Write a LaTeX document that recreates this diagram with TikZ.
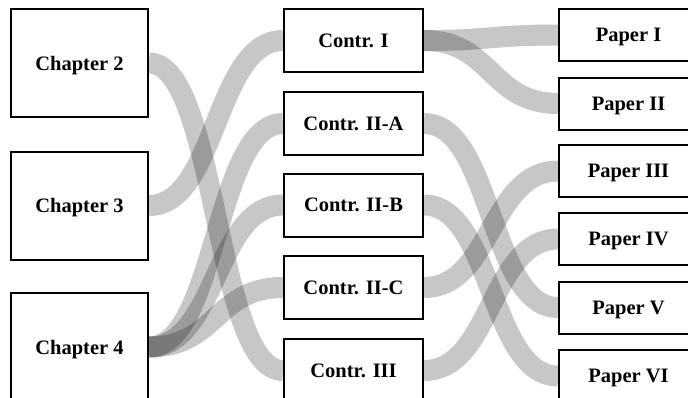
\documentclass[tikz,border=0pt]{standalone}
\usepackage{fontspec}
\setmainfont{Liberation Serif}
\begin{document}
\begin{tikzpicture}[x=1pt, y=-1pt,
                    box/.style  = {draw, line width=2pt, fill=white, inner sep=0pt, text depth=0pt,
                                   font=\bfseries\fontsize{20.5}{24}\selectfont},
                    chap/.style = {box, minimum width=137pt, minimum height=108pt},
                    contr/.style = {box, minimum width=139pt, minimum height=63pt},
                    paper/.style = {box, minimum width=139pt, minimum height=52pt},
                    flow/.style = {line width=21pt, black, draw opacity=0.22}]
                    \clip (0,0) rectangle (688,397);

                    \node[chap]  (ch2) at (79.5,63)    {Chapter 2};
                    \node[chap]  (ch3) at (79.5,205.5) {Chapter 3};
                    \node[chap]  (ch4) at (79.5,347)   {Chapter 4};

                    \node[contr] (c1)  at (353.5,40.5)  {Contr. I};
                    \node[contr] (c2a) at (353.5,123.5) {Contr. II-A};
                    \node[contr] (c2b) at (353.5,205)   {Contr. II-B};
                    \node[contr] (c2c) at (353.5,287.5) {Contr. II-C};
                    \node[contr] (c3)  at (353.5,370.5) {Contr. III};

                    \node[paper] (p1) at (628.5,35)    {Paper I};
                    \node[paper] (p2) at (628.5,103.5) {Paper II};
                    \node[paper] (p3) at (628.5,171)   {Paper III};
                    \node[paper] (p4) at (628.5,239)   {Paper IV};
                    \node[paper] (p5) at (628.5,307.5) {Paper V};
                    \node[paper] (p6) at (628.5,376)   {Paper VI};

                    \draw[flow] (ch2.east) .. controls +(68,0) and +(-68,0) .. (c3.west);
                    \draw[flow] (ch3.east) .. controls +(68,0) and +(-68,0) .. (c1.west);
                    \draw[flow] (ch4.east) .. controls +(68,0) and +(-68,0) .. (c2a.west);
                    \draw[flow] (ch4.east) .. controls +(68,0) and +(-68,0) .. (c2b.west);
                    \draw[flow] (ch4.east) .. controls +(68,0) and +(-68,0) .. (c2c.west);

                    \draw[flow] (c1.east)  .. controls +(68,0) and +(-68,0) .. (p1.west);
                    \draw[flow] (c1.east)  .. controls +(68,0) and +(-68,0) .. (p2.west);
                    \draw[flow] (c2a.east) .. controls +(68,0) and +(-68,0) .. (p5.west);
                    \draw[flow] (c2b.east) .. controls +(68,0) and +(-68,0) .. (p6.west);
                    \draw[flow] (c2c.east) .. controls +(68,0) and +(-68,0) .. (p3.west);
                    \draw[flow] (c3.east)  .. controls +(68,0) and +(-68,0) .. (p4.west);

                \end{tikzpicture}
\end{document}
